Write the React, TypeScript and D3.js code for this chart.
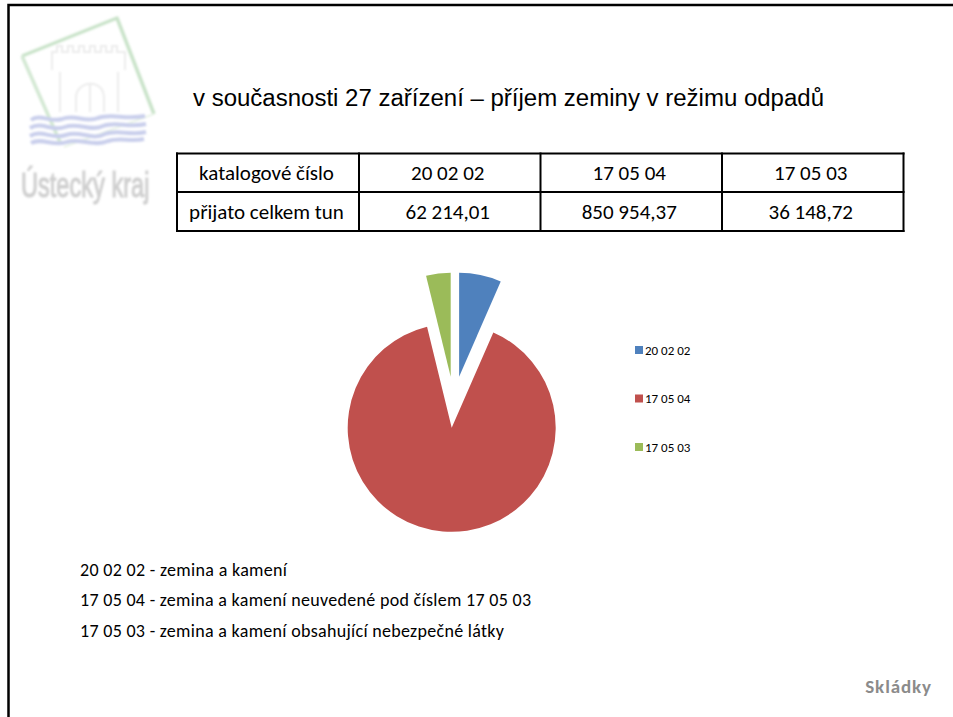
import React, { useEffect, useRef } from "react";
import * as d3 from "d3";

const categories = ["20 02 02", "17 05 04", "17 05 03"];
const tons = [62214.01, 850954.37, 36148.72];
const tonLabels = ["62 214,01", "850 954,37", "36 148,72"];
const colors = ["#4f81bd", "#c0504d", "#9bbb59"];
// pie pieces are pulled out by hand, as in the slide
const offsets = [[7.4, -51], [0, 0], [-1, -51]];
const notes = [
  "20 02 02 - zemina a kamení",
  "17 05 04 - zemina a kamení neuvedené pod číslem 17 05 03",
  "17 05 03 - zemina a kamení obsahující nebezpečné látky",
];
const noteWidths = [207, 451, 424];
const rowTitles = ["katalogové číslo", "přijato celkem tun"];

const wavePaths = [
  "M31,120 C40,113 50,123 62,119 C75,114 85,123 98,118 C112,113 125,120 145,116",
  "M30,128 C42,121 52,132 65,127 C78,122 90,132 103,126 C116,121 128,128 146,124",
  "M30,136 C42,129 52,140 66,135 C80,130 92,141 105,134 C118,129 130,136 146,132",
  "M31,143 C42,137 54,147 67,142 C80,138 95,147 108,141 C120,137 130,142 144,139",
];
const castlePath =
  "M52,70 V52 H57 V46 H62 V52 H68 V46 H73 V52 H79 V46 H84 V52 H90 V46 H95 V52 H101 V46 H106 V52 H112 V46 H117 V52 H125 V70 M60,72 V112 M118,72 V112 M76,112 V98 C76,80 104,78 104,98 V112 M90,84 V112";

const App = () => {
  const ref = useRef<SVGSVGElement | null>(null);

  useEffect(() => {
    const svg = d3.select(ref.current);
    svg.selectAll("*").remove();

    svg
      .append("rect")
      .attr("x", 0)
      .attr("y", 0)
      .attr("width", 953)
      .attr("height", 717)
      .attr("fill", "#fff");

    // slide frame, only top and left are visible
    svg
      .append("path")
      .attr("d", "M953,5 H8.5 V717")
      .attr("fill", "none")
      .attr("stroke", "#000")
      .attr("stroke-width", 2.5);

    // logo
    let blur = svg
      .append("defs")
      .append("filter")
      .attr("id", "logoBlur")
      .attr("x", "-10%")
      .attr("y", "-10%")
      .attr("width", "120%")
      .attr("height", "120%");
    blur.append("feGaussianBlur").attr("stdDeviation", 0.9);

    let logo = svg.append("g").attr("filter", "url(#logoBlur)");
    logo
      .append("path")
      .attr("d", castlePath)
      .attr("fill", "none")
      .attr("stroke", "#ececec")
      .attr("stroke-width", 2);
    logo
      .append("path")
      .attr("d", "M22,56 L117,18 L154,114")
      .attr("fill", "none")
      .attr("stroke", "#c9e3c9")
      .attr("stroke-width", 3.5)
      .attr("stroke-linejoin", "round");
    logo
      .append("path")
      .attr("d", "M22,56 L60,142")
      .attr("fill", "none")
      .attr("stroke", "#d3e8d3")
      .attr("stroke-width", 3.5);
    logo
      .append("path")
      .attr("d", "M154,114 L64,147")
      .attr("fill", "none")
      .attr("stroke", "#e6f1e4")
      .attr("stroke-width", 1.5);
    logo
      .selectAll("path.wave")
      .data(wavePaths)
      .enter()
      .append("path")
      .attr("class", "wave")
      .attr("d", (d) => d)
      .attr("fill", "none")
      .attr("stroke", "#c9cfec")
      .attr("stroke-width", 4);
    logo
      .append("text")
      .attr("transform", "translate(21, 197) scale(0.655, 1)")
      .attr("font-family", "'Liberation Sans', sans-serif")
      .attr("font-size", 36)
      .attr("fill", "#cfcfcf")
      .attr("stroke", "#cfcfcf")
      .attr("stroke-width", 1.1)
      .text("Ústecký kraj");

    // title
    svg
      .append("text")
      .attr("x", 193)
      .attr("y", 106)
      .attr("textLength", 631)
      .attr("lengthAdjust", "spacingAndGlyphs")
      .attr("font-family", "'Liberation Sans', sans-serif")
      .attr("font-size", 23)
      .attr("fill", "#000")
      .text("v současnosti 27 zařízení – příjem zeminy v režimu odpadů");

    // table
    let xCol = d3.scaleBand().domain(categories).range([359, 903.5]);
    let yRow = d3.scaleBand().domain(rowTitles).range([153.5, 231]);
    let table = svg.append("g");
    let cellFont = "Carlito, Lato, sans-serif";

    table
      .selectAll("line.col")
      .data([177, 359, 540.5, 722, 903.5])
      .enter()
      .append("line")
      .attr("class", "col")
      .attr("x1", (d) => d)
      .attr("x2", (d) => d)
      .attr("y1", 152.5)
      .attr("y2", 232)
      .attr("stroke", "#000")
      .attr("stroke-width", 2);
    table
      .selectAll("line.row")
      .data([153.5, 192, 231])
      .enter()
      .append("line")
      .attr("class", "row")
      .attr("x1", 176)
      .attr("x2", 904.5)
      .attr("y1", (d) => d)
      .attr("y2", (d) => d)
      .attr("stroke", "#000")
      .attr("stroke-width", 2);

    table
      .selectAll("text.rowTitle")
      .data(rowTitles)
      .enter()
      .append("text")
      .attr("class", "rowTitle")
      .attr("x", 266.5)
      .attr("y", (d) => (yRow(d) as number) + yRow.bandwidth() / 2 + 7)
      .attr("text-anchor", "middle")
      .attr("font-family", cellFont)
      .attr("font-size", 21)
      .text((d) => d);
    categories.forEach((c, i) => {
      let cx = (xCol(c) as number) + xCol.bandwidth() / 2 - 2;
      table
        .selectAll("text.cell" + i)
        .data([c, tonLabels[i]])
        .enter()
        .append("text")
        .attr("class", "cell" + i)
        .attr("x", cx)
        .attr("y", (d, j) => (yRow(rowTitles[j]) as number) + yRow.bandwidth() / 2 + 7)
        .attr("text-anchor", "middle")
        .attr("font-family", cellFont)
        .attr("font-size", 21)
        .text((d) => d);
    });

    // pie
    let pie = d3
      .pie<number>()
      .sort(null)
      .startAngle(0)
      .endAngle(Math.PI * 2);
    let arc = d3.arc<d3.PieArcDatum<number>>().innerRadius(0).outerRadius(104);

    svg
      .append("g")
      .attr("transform", "translate(451.7, 427.8)")
      .selectAll("path")
      .data(pie(tons))
      .enter()
      .append("path")
      .attr("d", arc)
      .attr("fill", (d, i) => colors[i])
      .attr("transform", (d, i) => `translate(${offsets[i][0]}, ${offsets[i][1]})`);

    // legend
    let yLegend = d3.scalePoint().domain(categories).range([350, 447]);
    let legend = svg
      .selectAll("g.legend")
      .data(categories)
      .enter()
      .append("g")
      .attr("class", "legend")
      .attr("transform", (d) => `translate(635, ${yLegend(d)})`);
    legend
      .append("rect")
      .attr("x", 0)
      .attr("y", -4)
      .attr("width", 8)
      .attr("height", 8)
      .attr("fill", (d, i) => colors[i]);
    legend
      .append("text")
      .attr("x", 10)
      .attr("y", 4.5)
      .attr("font-family", cellFont)
      .attr("font-size", 13)
      .text((d) => d);

    // notes under the chart
    let yNote = d3.scalePoint().domain(notes).range([576, 636.5]);
    svg
      .selectAll("text.note")
      .data(notes)
      .enter()
      .append("text")
      .attr("class", "note")
      .attr("x", 80)
      .attr("y", (d) => yNote(d) as number)
      .attr("textLength", (d, i) => noteWidths[i])
      .attr("lengthAdjust", "spacing")
      .attr("font-family", cellFont)
      .attr("font-size", 18)
      .text((d) => d);

    svg
      .append("text")
      .attr("x", 932)
      .attr("y", 693)
      .attr("text-anchor", "end")
      .attr("font-family", cellFont)
      .attr("font-size", 19)
      .attr("font-weight", "bold")
      .attr("letter-spacing", 0.9)
      .attr("fill", "#8b8b8b")
      .text("Skládky");
  }, []);

  return (
    <svg
      ref={ref}
      width={953}
      height={717}
      style={{ position: "fixed", left: 0, top: 0, display: "block" }}
    />
  );
};

export default App;
